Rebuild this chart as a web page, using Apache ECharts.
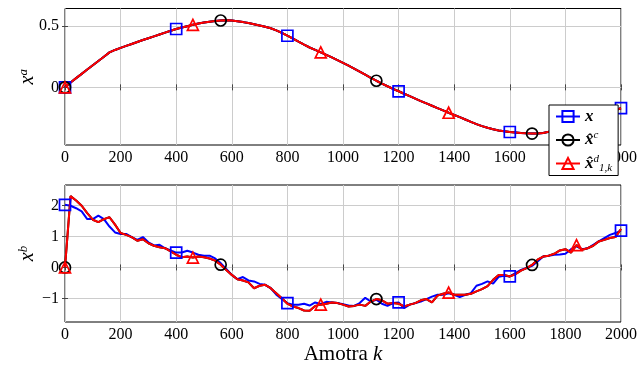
<!DOCTYPE html>
<html>
<head>
<meta charset="utf-8">
<script src="https://cdn.jsdelivr.net/npm/echarts@6/dist/echarts.min.js"></script>
<style>html,body{margin:0;padding:0;background:#fff}#c{width:640px;height:367px}</style>
</head>
<body>
<div id="c"></div>
<script>
// sample index k (every 20 samples)
const kSamples = Array.from({length: 101}, (_, i) => i * 20);

// top panel: x^a (true and estimates overlap)
const xaTrue = [
 0, 0.04, 0.075, 0.11, 0.145, 0.18, 0.215, 0.25, 0.285, 0.305,
 0.322, 0.338, 0.354, 0.370, 0.386, 0.401, 0.416, 0.431, 0.446, 0.461,
 0.476, 0.488, 0.499, 0.510, 0.520, 0.528, 0.535, 0.541, 0.545, 0.547,
 0.545, 0.539, 0.532, 0.524, 0.515, 0.505, 0.494, 0.482, 0.465, 0.444,
 0.421, 0.397, 0.372, 0.348, 0.325, 0.305, 0.285, 0.265, 0.244, 0.222,
 0.200, 0.177, 0.153, 0.128, 0.103, 0.078, 0.054, 0.031, 0.009, -0.012,
 -0.032, -0.052, -0.072, -0.092, -0.112, -0.131, -0.150, -0.169, -0.188, -0.207,
 -0.225, -0.243, -0.262, -0.281, -0.300, -0.316, -0.330, -0.341, -0.351, -0.358,
 -0.364, -0.368, -0.372, -0.375, -0.377, -0.377, -0.372, -0.362, -0.350, -0.337,
 -0.323, -0.308, -0.292, -0.276, -0.260, -0.245, -0.229, -0.214, -0.199, -0.185,
 -0.170
];
const xaHatC = xaTrue;
const xaHatD = xaTrue;

// bottom panel: x^b
const xbTrue = [
 2.02, 1.99, 1.91, 1.81, 1.56, 1.56, 1.67, 1.56, 1.32, 1.13,
 1.08, 1.08, 0.98, 0.89, 0.98, 0.81, 0.71, 0.73, 0.62, 0.55,
 0.48, 0.48, 0.54, 0.48, 0.41, 0.38, 0.38, 0.29, 0.14, -0.05,
 -0.24, -0.38, -0.31, -0.42, -0.45, -0.53, -0.56, -0.67, -0.88, -1.02,
 -1.15, -1.20, -1.20, -1.17, -1.23, -1.13, -1.18, -1.11, -1.13, -1.15,
 -1.19, -1.23, -1.24, -1.15, -0.98, -1.10, -1.04, -1.17, -1.24, -1.15,
 -1.13, -1.31, -1.20, -1.15, -1.10, -1.02, -0.94, -0.88, -0.88, -0.83,
 -0.88, -0.96, -0.88, -0.83, -0.59, -0.53, -0.45, -0.52, -0.30, -0.27,
 -0.29, -0.18, -0.08, -0.02, 0.05, 0.19, 0.35, 0.38, 0.41, 0.42,
 0.44, 0.59, 0.68, 0.59, 0.62, 0.73, 0.84, 0.95, 1.05, 1.11,
 1.19
];
const xbHatD = [
 0, 2.30, 2.16, 1.99, 1.75, 1.54, 1.46, 1.56, 1.62, 1.38,
 1.11, 1.05, 0.98, 0.86, 0.91, 0.78, 0.70, 0.65, 0.62, 0.52,
 0.41, 0.33, 0.35, 0.32, 0.35, 0.33, 0.29, 0.22, 0.09, -0.08,
 -0.24, -0.38, -0.42, -0.48, -0.67, -0.59, -0.56, -0.67, -0.83, -0.99,
 -1.17, -1.26, -1.31, -1.39, -1.40, -1.24, -1.20, -1.17, -1.13, -1.15,
 -1.20, -1.26, -1.24, -1.20, -1.24, -1.10, -1.02, -1.06, -1.17, -1.15,
 -1.17, -1.26, -1.20, -1.15, -1.06, -1.02, -1.13, -0.91, -0.85, -0.81,
 -0.88, -0.88, -0.88, -0.85, -0.77, -0.70, -0.60, -0.40, -0.24, -0.24,
 -0.29, -0.22, -0.10, -0.02, 0.08, 0.25, 0.35, 0.38, 0.44, 0.55,
 0.59, 0.48, 0.72, 0.57, 0.62, 0.70, 0.84, 0.89, 0.95, 0.98,
 1.24
];
const xbHatC = xbHatD;

const yTopTicks = [0, 0.5];
const yBotTicks = [-1, 0, 1, 2];

const FONT = 'Liberation Serif';
const BLUE = '#0000ff', RED = '#ff0000', BLACK = '#000000';

function mkData(vals, every, sym) {
  return vals.map((v, i) => ({ value: [kSamples[i], v], symbol: (i % every === 0) ? sym : 'none' }));
}
function mkSeries(name, color, sym, size, vals, every, gi) {
  return {
    name: name, type: 'line', xAxisIndex: gi * 2, yAxisIndex: gi * 2,
    data: mkData(vals, every, sym), symbol: sym, symbolSize: size,
    showSymbol: true, showAllSymbol: true, clip: false, animation: false,
    color: color,
    lineStyle: { color: color, width: 2 },
    itemStyle: { color: 'rgba(0,0,0,0)', borderColor: color, borderWidth: 1.7 },
    emphasis: { disabled: true }
  };
}

const labelStyle = { fontFamily: FONT, fontSize: 16, color: '#000' };
const gridLine = { show: true, lineStyle: { color: '#cccccc', width: 1 } };
const tick = { show: true, inside: true, length: 3, lineStyle: { color: '#444' } };

function xAxes(gi, showName) {
  const base = {
    type: 'value', gridIndex: gi, min: 0, max: 2000, interval: 200,
    axisLine: { show: false }, axisTick: tick, splitLine: gridLine,
    axisLabel: Object.assign({ margin: 5, formatter: v => String(v) }, labelStyle)
  };
  if (showName) {
    base.name = 'Amotra {k|k}';
    base.nameLocation = 'middle';
    base.nameGap = 22;
    base.nameMoveOverlap = false;
    base.nameTextStyle = { fontFamily: FONT, fontSize: 21, color: '#000',
      rich: { k: { fontFamily: FONT, fontSize: 21, fontStyle: 'italic', color: '#000' } } };
  }
  const mirror = {
    type: 'value', gridIndex: gi, position: 'top', min: 0, max: 2000, interval: 200,
    axisLine: { show: false }, axisTick: tick, splitLine: { show: false }, axisLabel: { show: false }
  };
  return [base, mirror];
}
function yAxes(gi, min, max, ticks, sup) {
  const fmt = v => String(v).replace('-', '\u2212');
  const base = {
    type: 'value', gridIndex: gi, min: min, max: max,
    axisLine: { show: false },
    axisTick: Object.assign({ customValues: ticks }, tick),
    splitLine: gridLine,
    axisLabel: Object.assign({ margin: 6, customValues: ticks, formatter: fmt }, labelStyle),
    name: '{x|x}{s|' + sup + '}', nameLocation: 'middle', nameRotate: 90, nameGap: 26,
    nameMoveOverlap: false,
    nameTextStyle: { rich: {
      x: { fontFamily: FONT, fontSize: 20, fontStyle: 'italic', color: '#000', lineHeight: 22 },
      s: { fontFamily: FONT, fontSize: 13, fontStyle: 'italic', color: '#000', verticalAlign: 'top', lineHeight: 14 }
    } }
  };
  const mirror = {
    type: 'value', gridIndex: gi, position: 'right', min: min, max: max,
    axisLine: { show: false },
    axisTick: Object.assign({ customValues: ticks }, tick),
    splitLine: { show: false }, axisLabel: { show: false }
  };
  return [base, mirror];
}

const legendText = {
  x: '{b|x}',
  xc: '{b|x\u0302}{sp|c}',
  xd: '{b|x\u0302}{sp|d}{sb|1,k}'
};

const option = {
  backgroundColor: '#fff',
  animation: false,
  grid: [
    { left: 65, right: 18, top: 8.5, height: 136.5, show: true, borderColor: '#000', borderWidth: 1, backgroundColor: 'transparent' },
    { left: 65, right: 18, top: 185, height: 137, show: true, borderColor: '#000', borderWidth: 1, backgroundColor: 'transparent' }
  ],
  xAxis: [].concat(xAxes(0, false), xAxes(1, true)),
  yAxis: [].concat(yAxes(0, -0.47, 0.643, yTopTicks, 'a'), yAxes(1, -1.76, 2.66, yBotTicks, 'b')),
  legend: {
    left: 549, top: 105, orient: 'vertical',
    data: ['x', 'xc', 'xd'],
    itemWidth: 24, itemHeight: 14, itemGap: 5,
    padding: [3, 6, 2, 6],
    borderColor: '#000', borderWidth: 1, backgroundColor: '#fff',
    selectedMode: false,
    formatter: n => legendText[n],
    textStyle: { fontFamily: FONT, color: '#000', rich: {
      b: { fontFamily: FONT, fontSize: 17, fontWeight: 'bold', fontStyle: 'italic', color: '#000', lineHeight: 20 },
      sp: { fontFamily: FONT, fontSize: 11, fontStyle: 'italic', color: '#000', verticalAlign: 'top', lineHeight: 12 },
      sb: { fontFamily: FONT, fontSize: 11, fontStyle: 'italic', color: '#000', verticalAlign: 'bottom', lineHeight: 12 }
    } }
  },
  series: [
    mkSeries('x', BLUE, 'rect', 11, xaTrue, 20, 0),
    mkSeries('xc', BLACK, 'circle', 11, xaHatC, 28, 0),
    mkSeries('xd', RED, 'triangle', 11, xaHatD, 23, 0),
    mkSeries('x', BLUE, 'rect', 11, xbTrue, 20, 1),
    mkSeries('xc', BLACK, 'circle', 11, xbHatC, 28, 1),
    mkSeries('xd', RED, 'triangle', 11, xbHatD, 23, 1)
  ]
};

const chart = echarts.init(document.getElementById('c'), null, { renderer: 'canvas' });
chart.setOption(option);
</script>
</body>
</html>
